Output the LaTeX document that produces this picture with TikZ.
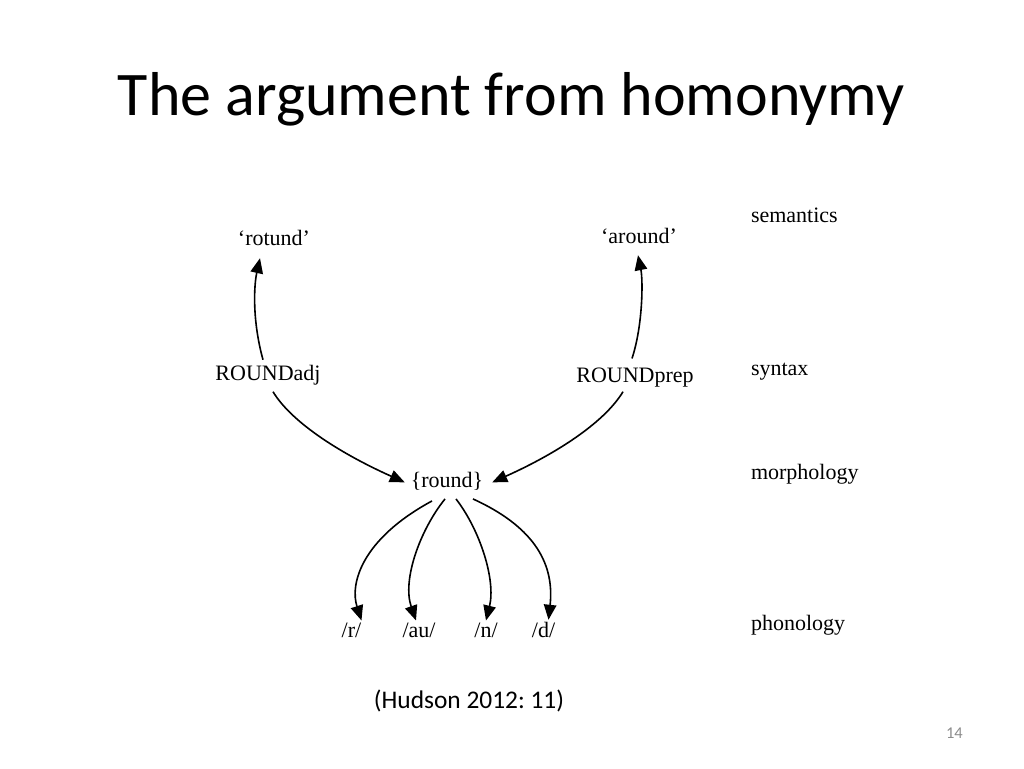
\documentclass[tikz,border=0pt]{standalone}
\usepackage{fontspec}
\setmainfont{Carlito}
\newfontfamily\tms{Liberation Serif}
\usetikzlibrary{arrows.meta}
\frenchspacing
\begin{document}
\begin{tikzpicture}[x=1pt,y=-1pt,
  lbl/.style={font=\tms\fontsize{22}{26}\selectfont, inner sep=0pt, outer sep=0pt, anchor=base},
  lev/.style={lbl, anchor=base west},
  arr/.style={line width=1.6pt, -{Triangle[length=15pt,width=12.5pt]}}]
\fill[white] (0,0) rectangle (1024,768);
\useasboundingbox (0,0) rectangle (1024,768);
\node[font=\fontsize{62}{70}\selectfont, anchor=base, inner sep=0pt] (title) at (511,115.5) {The argument from homonymy};
% level labels
\node[lev] (sem) at (751,222) {semantics};
\node[lev] (syn) at (751,375) {syntax};
\node[lev] (mor) at (751,479) {morphology};
\node[lev] (pho) at (751,630) {phonology};
% diagram nodes
\node[lbl] (rot) at (274,245) {‘rotund’};
\node[lbl] (aro) at (639,243) {‘around’};
\node[lbl] (adj) at (268,380) {ROUNDadj};
\node[lbl] (prep) at (635,382) {ROUNDprep};
\node[lbl] (rnd) at (447,487) {\{round\}};
\node[lbl] (r) at (351.5,637) {/r/};
\node[lbl] (au) at (419,637) {/au/};
\node[lbl] (n) at (486,637) {/n/};
\node[lbl] (d) at (543.5,637) {/d/};
% connectors
\draw[arr] ([xshift=-5pt,yshift=5pt]adj.north) .. controls (252,320) and (254,285) .. ([xshift=-14pt,yshift=-13pt]rot.south);
\draw[arr] ([xshift=-3pt,yshift=9pt]prep.north) .. controls (643,325) and (643,280) .. ([xshift=-1pt,yshift=-12pt]aro.south);
\draw[arr] ([xshift=5pt,yshift=-7pt]adj.south) .. controls (290,420) and (335,451) .. ([xshift=-6pt,yshift=-1.5pt]rnd.west);
\draw[arr] ([xshift=-12pt,yshift=-5pt]prep.south) .. controls (606,420) and (562,451) .. ([xshift=9pt,yshift=-1.5pt]rnd.east);
\draw[arr] ([xshift=-15pt,yshift=-11pt]rnd.south) .. controls (360,540) and (350,585) .. ([xshift=10pt,yshift=2pt]r.north);
\draw[arr] ([xshift=-2pt,yshift=-9pt]rnd.south) .. controls (420,530) and (402,580) .. ([xshift=-3pt,yshift=2pt]au.north);
\draw[arr] ([xshift=9pt,yshift=-9pt]rnd.south) .. controls (480,530) and (496,580) .. ([yshift=2pt]n.north);
\draw[arr] ([xshift=26pt,yshift=-9pt]rnd.south) .. controls (530,525) and (555,560) .. ([xshift=5pt,yshift=2pt]d.north);
% source and page number
\node[font=\fontsize{25.4}{30}\selectfont, anchor=base, inner sep=0pt] (src) at (469,708) {(Hudson 2012: 11)};
\node[font=\fontsize{16.5}{20}\selectfont, anchor=base east, inner sep=0pt, text=black!45] (page) at (963,738) {14};
\end{tikzpicture}
\end{document}
